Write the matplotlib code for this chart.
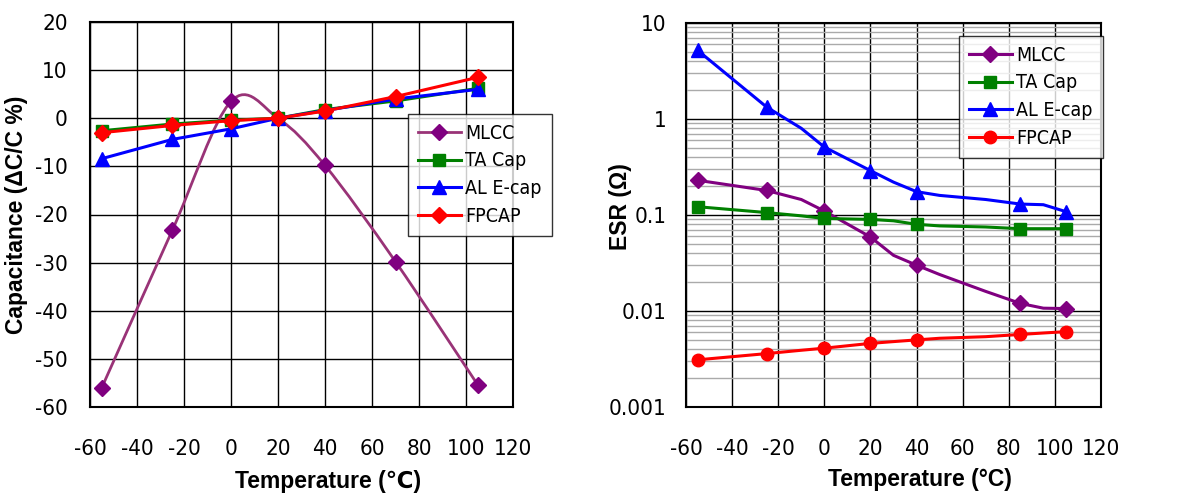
import numpy as np
import matplotlib
matplotlib.use("Agg")
import matplotlib.pyplot as plt
from matplotlib.path import Path
from matplotlib.patches import PathPatch
from matplotlib.ticker import FixedLocator, NullFormatter

plt.rcParams['font.family'] = ['DejaVu Sans']
plt.rcParams['font.stretch'] = 'condensed'
plt.rcParams['axes.unicode_minus'] = False

# left chart: capacitance change vs temperature
temp_cap = [-55, -25, 0, 20, 40, 70, 105]
cap_mlcc = [-56, -23.3, 3.5, 0, -9.8, -29.8, -55.4]
cap_ta = [-2.6, -1.2, -0.4, 0, 1.8, 3.6, 6.2]
cap_al = [-8.4, -4.4, -2.2, 0, 1.6, 4.0, 6.0]
cap_fp = [-3.0, -1.5, -0.5, 0, 1.5, 4.5, 8.5]

# right chart: ESR vs temperature (markers only on some points)
temp_esr = [-55, -25, -10, 0, 20, 30, 40, 50, 70, 85, 95, 105]
esr_marks = [0, 1, 3, 4, 6, 9, 11]
esr_mlcc = [0.23, 0.18, 0.145, 0.11, 0.059, 0.038, 0.030, 0.024, 0.016, 0.012, 0.0107, 0.0106]
esr_ta = [0.122, 0.106, 0.098, 0.092, 0.090, 0.087, 0.080, 0.077, 0.075, 0.072, 0.072, 0.072]
esr_al = [5.2, 1.33, 0.80, 0.51, 0.29, 0.22, 0.175, 0.16, 0.145, 0.13, 0.128, 0.108]
esr_fp = [0.0031, 0.0036, 0.0039, 0.0041, 0.0046, 0.0048, 0.0050, 0.0052, 0.0054, 0.0057, 0.0059, 0.0061]

labels = ["MLCC", "TA Cap", "AL E-cap", "FPCAP"]
colors = ["#800080", "#008000", "#0000FF", "#FF0000"]
label_font = dict(fontsize=16.5, fontweight="bold", family=["Liberation Sans", "DejaVu Sans"],
                  fontstretch="normal")


def smooth_path(x, y):
    # excel-style bezier smoothing through the points
    p = np.column_stack([x, y]).astype(float)
    n = len(p)
    verts = [p[0]]
    codes = [Path.MOVETO]
    for i in range(n - 1):
        p0 = p[i - 1] if i > 0 else p[i]
        p3 = p[i + 2] if i + 2 < n else p[i + 1]
        c1 = p[i] + (p[i + 1] - p0) / 6
        c2 = p[i + 1] - (p3 - p[i]) / 6
        verts += [c1, c2, p[i + 1]]
        codes += [Path.CURVE4] * 3
    return Path(verts, codes)


fig = plt.figure(figsize=(11.93, 4.95), dpi=100)

ax1 = fig.add_axes([90 / 1193, 88 / 495, 423 / 1193, 385 / 495])
ax1.add_patch(PathPatch(smooth_path(temp_cap, cap_mlcc), fill=False,
                        edgecolor="#993377", lw=2, zorder=3))
ax1.plot(temp_cap, cap_mlcc, ls="none", marker="D", ms=8, color=colors[0], zorder=4)
ax1.plot(temp_cap, cap_ta, marker="s", ms=8, lw=2.2, color=colors[1], zorder=4)
ax1.plot(temp_cap, cap_al, marker="^", ms=10, lw=2.2, color=colors[2], zorder=4)
ax1.plot(temp_cap, cap_fp, marker="D", ms=8, lw=2.2, color=colors[3], zorder=4)
ax1.set_xlim(-60, 120)
ax1.set_ylim(-60, 20)
ax1.set_xticks(range(-60, 121, 20))
ax1.set_yticks(range(-60, 21, 10))
ax1.grid(True, color="black", lw=1)
ax1.set_axisbelow(True)
ax1.tick_params(length=0, labelsize=16)
ax1.tick_params(axis="x", pad=23)
ax1.tick_params(axis="y", pad=16)
for s in ax1.spines.values():
    s.set_linewidth(1.5)
ax1.set_xlabel("Temperature (℃)", **label_font)
ax1.xaxis.set_label_coords((328 - 90) / 423, -0.163)
ax1.set_ylabel("Capacitance (ΔC/C %)", **label_font)
ax1.yaxis.set_label_coords(-0.147, 0.5)

h = [plt.Line2D([], [], color="#993377", lw=2, marker="D", ms=8, mfc=colors[0], mec=colors[0]),
     plt.Line2D([], [], color=colors[1], lw=2.2, marker="s", ms=8),
     plt.Line2D([], [], color=colors[2], lw=2.2, marker="^", ms=10),
     plt.Line2D([], [], color=colors[3], lw=2.2, marker="D", ms=8)]
leg1 = ax1.legend(h, labels, loc="upper left", bbox_to_anchor=((408 - 90) / 423, (407 - 114) / 385),
                  fontsize=14, frameon=True, fancybox=False, edgecolor="black",
                  borderpad=0.5, labelspacing=0.45, handlelength=2.2, handletextpad=0.25,
                  borderaxespad=0)
leg1.get_frame().set_linewidth(1)

ax2 = fig.add_axes([686 / 1193, 88 / 495, 415 / 1193, 384 / 495])
series = [(esr_mlcc, "D", 8), (esr_ta, "s", 8), (esr_al, "^", 10), (esr_fp, "o", 9)]
for (vals, mk, ms), c, lab in zip(series, colors, labels):
    ax2.plot(temp_esr, vals, marker=mk, ms=ms, lw=2.2, color=c, markevery=esr_marks,
             label=lab, zorder=4)
ax2.set_yscale("log")
ax2.set_xlim(-60, 120)
ax2.set_ylim(0.001, 10)
ax2.set_xticks(range(-60, 121, 20))
ax2.set_yticks([0.001, 0.01, 0.1, 1, 10])
ax2.set_yticklabels(["0.001", "0.01", "0.1", "1", "10"])
ax2.yaxis.set_minor_locator(FixedLocator([m * 10.0 ** e for e in range(-3, 1) for m in range(2, 10)]))
ax2.yaxis.set_minor_formatter(NullFormatter())
ax2.grid(True, which="major", color="black", lw=1)
ax2.grid(True, which="minor", axis="y", color="#aaaaaa", lw=1)
ax2.set_axisbelow(True)
ax2.tick_params(which="both", length=0, labelsize=16)
ax2.tick_params(axis="x", pad=23)
ax2.tick_params(axis="y", pad=14)
for s in ax2.spines.values():
    s.set_linewidth(1.5)
ax2.set_xlabel("Temperature (°C)", **label_font)
ax2.xaxis.set_label_coords((920 - 686) / 415, -0.158)
ax2.set_ylabel("ESR (Ω)", **label_font)
ax2.yaxis.set_label_coords(-0.13, 0.523)
leg2 = ax2.legend(loc="upper left", bbox_to_anchor=((959 - 686) / 415, (407 - 36) / 384),
                  fontsize=14, frameon=True, fancybox=False, edgecolor="black",
                  borderpad=0.5, labelspacing=0.45, handlelength=2.2, handletextpad=0.25,
                  borderaxespad=0)
leg2.get_frame().set_linewidth(1)

fig.savefig("out.png", dpi=100)
